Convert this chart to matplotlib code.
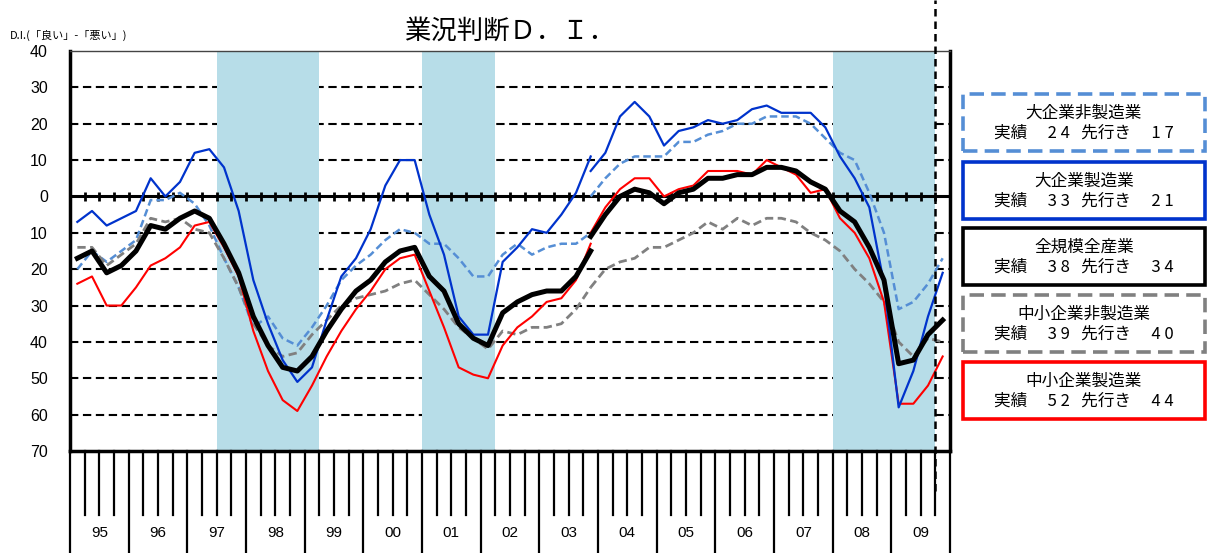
import matplotlib
matplotlib.use('Agg')
import matplotlib.pyplot as plt
from matplotlib.patches import Rectangle
import numpy as np

plt.rcParams['font.family'] = ['Noto Sans CJK JP', 'DejaVu Sans']

W, H = 1207, 553

years = ['95', '96', '97', '98', '99', '00', '01', '02', '03', '04', '05', '06', '07', '08', '09']

# quarterly D.I., index 0 = 1995 Q1. old sample basis runs to 2003 Q4,
# new basis starts again at 2003 Q4; last value is the forecast (2009 Q4)
large_nonmfg_old = [-20, -15, -18, -15, -12, -1, -1, 1, -2, -8, -17, -25, -36, -33, -39, -41,
                    -36, -30, -23, -19, -16, -12, -9, -10, -13, -13, -17, -22, -22, -16, -13, -16,
                    -14, -13, -13, -10]
large_nonmfg_new = [0, 5, 9, 11, 11, 11, 15, 15, 17, 18, 20, 20, 22, 22, 22, 20, 16, 12, 10, 1,
                    -10, -31, -29, -24, -17]

large_mfg_old = [-7, -4, -8, -6, -4, 5, 0, 4, 12, 13, 8, -4, -23, -35, -45, -51,
                 -47, -34, -22, -17, -9, 3, 10, 10, -5, -16, -33, -38, -38, -18, -14, -9,
                 -10, -5, 1, 11]
large_mfg_new = [7, 12, 22, 26, 22, 14, 18, 19, 21, 20, 21, 24, 25, 23, 23, 23, 19, 11, 5, -3,
                 -24, -58, -48, -33, -21]

all_old = [-17, -15, -21, -19, -15, -8, -9, -6, -4, -6, -13, -21, -33, -41, -47, -48,
           -44, -37, -31, -26, -23, -18, -15, -14, -22, -26, -35, -39, -41, -32, -29, -27,
           -26, -26, -22, -15]
all_new = [-11, -5, 0, 2, 1, -2, 1, 2, 5, 5, 6, 6, 8, 8, 7, 4, 2, -4, -7, -14,
           -23, -46, -45, -38, -34]

small_nonmfg_old = [-14, -14, -19, -16, -13, -6, -7, -6, -9, -10, -17, -25, -35, -41, -44, -43,
                    -38, -34, -30, -28, -27, -26, -24, -23, -27, -31, -36, -39, -42, -37, -38, -36,
                    -36, -35, -31, -25]
small_nonmfg_new = [-25, -20, -18, -17, -14, -14, -12, -10, -7, -9, -6, -8, -6, -6, -7, -10,
                    -12, -15, -20, -24, -29, -40, -44, -39, -40]

small_mfg_old = [-24, -22, -30, -30, -25, -19, -17, -14, -8, -7, -14, -22, -37, -48, -56, -59,
                 -52, -44, -37, -31, -26, -20, -17, -16, -26, -36, -47, -49, -50, -41, -36, -33,
                 -29, -28, -23, -13]
small_mfg_new = [-10, -3, 2, 5, 5, 0, 2, 3, 7, 7, 7, 6, 10, 8, 6, 1, 2, -6, -10, -17,
                 -29, -57, -57, -52, -44]

names = ['大企業非製造業', '大企業製造業', '全規模全産業', '中小企業非製造業', '中小企業製造業']

# shaded periods (first and last quarter index)
recessions = [(10, 16), (24, 28), (52, 58)]

series = [
    (large_nonmfg_old, large_nonmfg_new, '#558ED5', 1.8, (0, (3, 1.6))),
    (small_nonmfg_old, small_nonmfg_new, '#808080', 2.0, (0, (3, 1.6))),
    (small_mfg_old, small_mfg_new, '#FF0000', 1.5, '-'),
    (large_mfg_old, large_mfg_new, '#0033CC', 1.6, '-'),
    (all_old, all_new, 'black', 3.6, '-'),
]

fig = plt.figure(figsize=(W / 100, H / 100), dpi=100)
ax = fig.add_axes([70 / W, 1 - 451 / H, 880 / W, 400 / H])

n_q = len(years) * 4
ax.set_xlim(-0.5, n_q - 0.5)
ax.set_ylim(-70, 40)

for y in range(-60, 40, 10):
    if y != 0:
        ax.axhline(y, color='black', lw=1.5, ls=(0, (4, 2.2)), zorder=1)

for a, b in recessions:
    ax.axvspan(a - 0.5, b + 0.5, color='#B7DDE8', lw=0, zorder=2)

ax.axhline(0, color='black', lw=2.2, zorder=3)
bounds = np.arange(1, n_q) - 0.5
ax.vlines(bounds, -1.2, 1.2, color='black', lw=2, zorder=3)

for old, new, c, lw, ls in series:
    x_old = np.arange(len(old))
    x_new = np.arange(len(old) - 1, len(old) - 1 + len(new))
    ax.plot(x_old, old, color=c, lw=lw, ls=ls, zorder=4)
    ax.plot(x_new, new, color=c, lw=lw, ls=ls, zorder=4)

# forecast separator
fc_x = n_q - 1.5
ax.plot([fc_x, fc_x], [-0.1, 1.128], transform=ax.get_xaxis_transform(),
        color='black', lw=1.8, ls=(0, (3, 2)), clip_on=False, zorder=6)

ax.set_yticks(range(-70, 41, 10))
ax.set_yticklabels([str(abs(v)) for v in range(-70, 41, 10)], family='Liberation Sans', fontsize=11.5)
ax.tick_params(axis='y', length=0, pad=16)
ax.set_xticks([])

for s in ['left', 'bottom', 'right']:
    ax.spines[s].set_linewidth(2.5)
ax.spines['top'].set_linewidth(1)
ax.spines['top'].set_color('#444444')

# quarter and year lines under the axis
xt = ax.get_xaxis_transform()
for k in range(n_q + 1):
    b = k - 0.5
    lo = -0.255 if k % 4 == 0 else -0.16
    ax.plot([b, b], [0, lo], transform=xt, color='black', lw=1.6, clip_on=False)
for j, yr in enumerate(years):
    ax.text(4 * j + 1.5, -0.205, yr, transform=xt, ha='center', va='center',
            family='Liberation Sans', fontsize=11)

fig.text(510 / W, 1 - 31 / H, '業況判断Ｄ．Ｉ．', ha='center', va='center', fontsize=19)
fig.text(10 / W, 1 - 35 / H, 'D.I.(「良い」-「悪い」)', ha='left', va='center', fontsize=8)

# legend boxes
box_tops = [94, 162, 228, 295, 362]
for (old, new, c, lw, ls), name, top in zip(
        [series[0], series[3], series[4], series[1], series[2]], names, box_tops):
    dashed = ls != '-'
    rect = Rectangle((963 / W, 1 - (top + 57) / H), 242 / W, 57 / H, transform=fig.transFigure,
                     fill=False, edgecolor=c, lw=2.6, ls=(0, (4, 2)) if dashed else '-')
    fig.add_artist(rect)
    act, fc = abs(new[-2]), abs(new[-1])
    a_s = ' '.join(str(act))
    f_s = ' '.join(str(fc))
    fig.text(1084 / W, 1 - (top + 19) / H, name, ha='center', va='center', fontsize=12)
    fig.text(1084 / W, 1 - (top + 39) / H, f'実績　 {a_s}   先行き　 {f_s}',
             ha='center', va='center', fontsize=12)

fig.savefig('out.png', dpi=100)
